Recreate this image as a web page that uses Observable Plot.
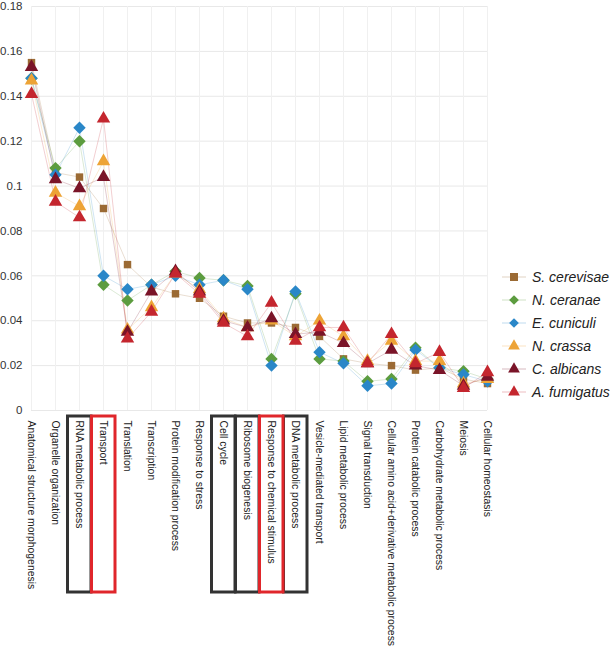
<!DOCTYPE html>
<html>
<head>
<meta charset="utf-8">
<script src="https://cdn.jsdelivr.net/npm/d3@7"></script>
<script src="https://cdn.jsdelivr.net/npm/@observablehq/plot@0.6"></script>
<style>
  body { margin: 0; background: #fff; font-family: "Liberation Sans", Arial, sans-serif; }
  #wrap { position: relative; width: 615px; height: 656px; overflow: hidden; }
  #legend { position: absolute; left: 502px; top: 265px; font-family: "Liberation Sans", Arial, sans-serif; font-style: italic; font-size: 14px; color: #222; }
  #legend .row { display: flex; align-items: center; height: 23px; white-space: nowrap; }
  #legend svg { margin-right: 6px; }
</style>
</head>
<body>
<div id="wrap"><div id="chart"></div><div id="legend"></div></div>
<script>
const categories = [
  "Anatomical structure morphogenesis", "Organelle organization", "RNA metabolic process",
  "Transport", "Translation", "Transcription", "Protein modification process",
  "Response to stress", "Cell cycle", "Ribosome biogenesis", "Response to chemical stimulus",
  "DNA metabolic process", "Vesicle-mediated transport", "Lipid metabolic process",
  "Signal transduction", "Cellular amino acid+derivative metabolic process",
  "Protein catabolic process", "Carbohydrate metabolic process", "Meiosis", "Cellular homeostasis"
];
const seriesNames = ["S. cerevisae", "N. ceranae", "E. cuniculi", "N. crassa", "C. albicans", "A. fumigatus"];
const sCerevisae = [0.155, 0.106, 0.104, 0.090, 0.065, 0.055, 0.052, 0.050, 0.042, 0.039, 0.039, 0.037, 0.033, 0.023, 0.021, 0.020, 0.018, 0.019, 0.014, 0.012];
const nCeranae   = [0.148, 0.108, 0.120, 0.056, 0.049, 0.056, 0.062, 0.059, 0.058, 0.0555, 0.023, 0.052, 0.023, 0.022, 0.013, 0.014, 0.028, 0.019, 0.0175, 0.014];
const eCuniculi  = [0.148, 0.105, 0.126, 0.060, 0.054, 0.056, 0.060, 0.056, 0.058, 0.054, 0.020, 0.053, 0.026, 0.021, 0.011, 0.012, 0.027, 0.019, 0.016, 0.013];
const nCrassa    = [0.147, 0.097, 0.091, 0.111, 0.036, 0.046, 0.061, 0.054, 0.041, 0.037, 0.040, 0.033, 0.040, 0.033, 0.022, 0.031, 0.022, 0.022, 0.012, 0.014];
const cAlbicans  = [0.153, 0.103, 0.099, 0.104, 0.035, 0.053, 0.062, 0.053, 0.040, 0.037, 0.041, 0.034, 0.035, 0.030, 0.021, 0.027, 0.020, 0.018, 0.011, 0.015];
const aFumigatus = [0.141, 0.093, 0.086, 0.130, 0.032, 0.044, 0.061, 0.052, 0.039, 0.033, 0.048, 0.031, 0.037, 0.037, 0.021, 0.034, 0.021, 0.026, 0.010, 0.017];
const seriesValues = [sCerevisae, nCeranae, eCuniculi, nCrassa, cAlbicans, aFumigatus];
const seriesColors = ["#9b6a34", "#5c9c3f", "#2a87c8", "#eda336", "#7a1428", "#c4262e"];
const seriesSymbols = ["square", "diamond2", "diamond2", "triangle", "triangle", "triangle"];
const yTicks = [0, 0.02, 0.04, 0.06, 0.08, 0.1, 0.12, 0.14, 0.16, 0.18];
const blackBoxed = ["RNA metabolic process", "Cell cycle", "Ribosome biogenesis", "DNA metabolic process"];
const redBoxed = ["Transport", "Response to chemical stimulus"];

const data = [];
seriesNames.forEach((s, i) => categories.forEach((c, j) => data.push({series: s, category: c, value: seriesValues[i][j], order: i})));

const chart = Plot.plot({
  width: 615,
  height: 656,
  marginLeft: 31,
  marginRight: 128,
  marginTop: 6,
  marginBottom: 246,
  style: {fontFamily: "Liberation Sans, Arial, sans-serif", fontSize: "11px", color: "#333", background: "#fff"},
  x: {type: "point", domain: categories, padding: 0, label: null},
  y: {domain: [0, 0.18], label: null},
  color: {domain: seriesNames, range: seriesColors},
  symbol: {domain: seriesNames, range: seriesSymbols},
  marks: [
    Plot.gridY(yTicks, {stroke: "#e8e8e8", strokeOpacity: 1}),
    Plot.gridX(categories, {stroke: "#f0f0f0", strokeOpacity: 1}),
    Plot.axisY(yTicks, {tickSize: 0, tickPadding: 9, fontSize: 11.5, fill: "#333", tickFormat: d => String(d)}),
    Plot.axisX({tickSize: 0, tickRotate: 90, tickPadding: 10, fontSize: 10.4, fill: "#222"}),
    Plot.line(data, {x: "category", y: "value", z: "series", stroke: "series", strokeOpacity: 0.28, strokeWidth: 0.8}),
    ...seriesNames.map((s, i) => Plot.dot(data.filter(d => d.series === s), {
      x: "category", y: "value", symbol: "series", fill: "series", stroke: "none",
      r: seriesSymbols[i] === "square" ? 4.2 : seriesSymbols[i] === "diamond2" ? 5.6 : 5
    }))
  ]
});
document.getElementById("chart").appendChild(chart);

// boxes around selected tick labels
const xs = chart.scale("x");
const svg = d3.select(chart);
const boxG = svg.append("g");
function box(cat, color) {
  const cx = xs.apply(cat);
  boxG.append("rect").attr("x", cx - 11.5).attr("y", 416).attr("width", 23.5).attr("height", 176)
    .attr("fill", "none").attr("stroke", color).attr("stroke-width", 3);
}
blackBoxed.forEach(c => box(c, "#333"));
redBoxed.forEach(c => box(c, "#e0262b"));

// legend
const leg = d3.select("#legend");
seriesNames.forEach((s, i) => {
  const row = leg.append("div").attr("class", "row");
  const sv = row.append("svg").attr("width", 24).attr("height", 16);
  sv.append("line").attr("x1", 0).attr("x2", 24).attr("y1", 8).attr("y2", 8).attr("stroke", seriesColors[i]).attr("stroke-opacity", 0.3);
  const sym = {square: d3.symbolSquare, diamond2: d3.symbolDiamond2, triangle: d3.symbolTriangle}[seriesSymbols[i]];
  sv.append("path").attr("transform", "translate(12,8)").attr("d", d3.symbol(sym, seriesSymbols[i] === "square" ? 64 : 60)()).attr("fill", seriesColors[i]);
  row.append("span").text(s);
});
</script>
</body>
</html>
